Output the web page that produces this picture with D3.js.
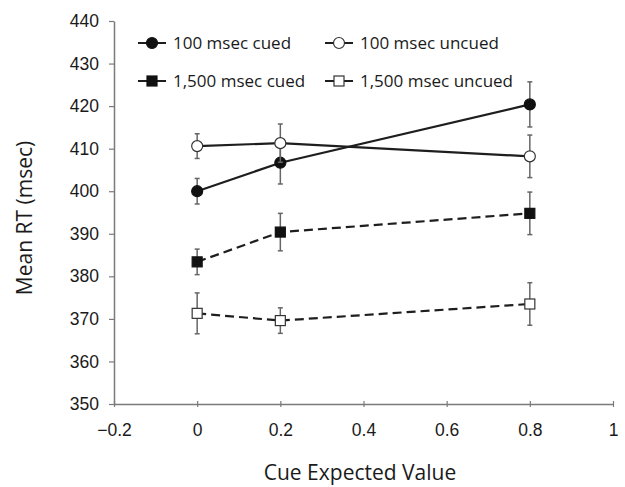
<!DOCTYPE html>
<html>
<head>
<meta charset="utf-8">
<script src="https://cdn.jsdelivr.net/npm/d3@7"></script>
<style>
  body { margin: 0; background: #fff; }
  svg { display: block; font-family: "Open Sans", sans-serif; }
</style>
</head>
<body>
<svg id="drawing_region"></svg>
<script>
// cue expected value (x positions)
const cueValues = [0, 0.2, 0.8];

// series names
const seriesNames = ["100 msec cued", "100 msec uncued", "1,500 msec cued", "1,500 msec uncued"];

// mean RT per series
const cued100 = [400.0, 406.7, 420.4];
const uncued100 = [410.6, 411.3, 408.2];
const cued1500 = [383.4, 390.4, 394.8];
const uncued1500 = [371.3, 369.6, 373.5];

// error bar half widths
const cued100Err = [3.0, 5.0, 5.3];
const uncued100Err = [2.9, 4.5, 5.0];
const cued1500Err = [3.0, 4.4, 5.0];
const uncued1500Err = [4.8, 3.0, 5.0];

// axis ticks
const xTicks = [-0.2, 0, 0.2, 0.4, 0.6, 0.8, 1];
const yTicks = [350, 360, 370, 380, 390, 400, 410, 420, 430, 440];

const series = [
    { name: seriesNames[0], values: cued100, err: cued100Err, shape: "circle", filled: true, dashed: false },
    { name: seriesNames[1], values: uncued100, err: uncued100Err, shape: "circle", filled: false, dashed: false },
    { name: seriesNames[2], values: cued1500, err: cued1500Err, shape: "square", filled: true, dashed: true },
    { name: seriesNames[3], values: uncued1500, err: uncued1500Err, shape: "square", filled: false, dashed: true }
];

const config = {
    width: 625,
    height: 487,
    margin: { top: 21, right: 12, bottom: 83, left: 114 }
};

const svg = d3.select("#drawing_region")
    .attr("width", config.width)
    .attr("height", config.height);

const inner_width = config.width - config.margin.left - config.margin.right;
const inner_height = config.height - config.margin.top - config.margin.bottom;

const chart = svg.append("g")
    .attr("transform", `translate(${config.margin.left}, ${config.margin.top})`);

const xscale = d3.scaleLinear().domain([-0.2, 1]).range([0, inner_width]);
const yscale = d3.scaleLinear().domain([350, 440]).range([inner_height, 0]);

const fmtX = d => d === 0 || d === 1 ? String(d) : d3.format(".1f")(d).replace("-", "\u2013");

const axisColor = "#7a7a7a";
const lineColor = "#1e1e1e";

// x axis: ticks cross the line
const xaxis_group = chart.append("g")
    .attr("transform", `translate(0, ${inner_height})`)
    .call(d3.axisBottom(xscale).tickValues(xTicks).tickFormat(fmtX).tickSizeInner(3).tickSizeOuter(0).tickPadding(17));
xaxis_group.selectAll(".tick line").attr("y1", -3);

const yaxis_group = chart.append("g")
    .call(d3.axisLeft(yscale).tickValues(yTicks).tickSizeInner(5).tickSizeOuter(0).tickPadding(10));

[xaxis_group, yaxis_group].forEach(g => {
    g.select(".domain").attr("stroke", axisColor).attr("stroke-width", 1.5);
    g.selectAll(".tick line").attr("stroke", axisColor).attr("stroke-width", 1.2);
    g.selectAll(".tick text").attr("fill", "#1a1a1a").attr("font-size", "17.5px");
});

// axis titles
svg.append("text")
    .attr("x", 360)
    .attr("y", 480)
    .attr("text-anchor", "middle")
    .attr("font-size", "21px")
    .attr("fill", "#1a1a1a")
    .text("Cue Expected Value");

svg.append("text")
    .attr("transform", "translate(32, 218) rotate(-90)")
    .attr("text-anchor", "middle")
    .attr("font-size", "21px")
    .attr("fill", "#1a1a1a")
    .text("Mean RT (msec)");

function drawMarker(g, s, cx, cy) {
    if (s.shape === "circle") {
        g.append("circle")
            .attr("cx", cx).attr("cy", cy).attr("r", 5.5)
            .attr("fill", s.filled ? "#111" : "#fff")
            .attr("stroke", s.filled ? "#111" : "#333")
            .attr("stroke-width", 1.2);
    } else {
        g.append("rect")
            .attr("x", cx - 5).attr("y", cy - 5)
            .attr("width", 10).attr("height", 10)
            .attr("fill", s.filled ? "#111" : "#fff")
            .attr("stroke", s.filled ? "#111" : "#333")
            .attr("stroke-width", 1.2);
    }
}

const line = d3.line()
    .x(d => xscale(d.x))
    .y(d => yscale(d.y));

series.forEach(s => {
    const pts = cueValues.map((x, i) => ({ x: x, y: s.values[i], e: s.err[i] }));
    const g = chart.append("g");

    // error bars
    pts.forEach(p => {
        const cx = xscale(p.x);
        const y0 = yscale(p.y - p.e), y1 = yscale(p.y + p.e);
        g.append("line").attr("x1", cx).attr("x2", cx).attr("y1", y0).attr("y2", y1)
            .attr("stroke", "#666").attr("stroke-width", 1.5);
        [y0, y1].forEach(yy => {
            g.append("line").attr("x1", cx - 2.5).attr("x2", cx + 2.5).attr("y1", yy).attr("y2", yy)
                .attr("stroke", "#666").attr("stroke-width", 1.5);
        });
    });

    g.append("path")
        .attr("d", line(pts))
        .attr("fill", "none")
        .attr("stroke", lineColor)
        .attr("stroke-width", 2.2)
        .attr("stroke-dasharray", s.dashed ? "9,5" : null);

    pts.forEach(p => drawMarker(g, s, xscale(p.x), yscale(p.y)));
});

// legend
const legendPos = [
    { x: 138, y: 43 }, { x: 325, y: 43 },
    { x: 138, y: 81 }, { x: 325, y: 81 }
];
series.forEach((s, i) => {
    const lg = svg.append("g").attr("transform", `translate(${legendPos[i].x}, ${legendPos[i].y})`);
    lg.append("line").attr("x1", 0).attr("x2", 28).attr("y1", 0).attr("y2", 0)
        .attr("stroke", lineColor).attr("stroke-width", 2);
    drawMarker(lg, s, 14, 0);
    lg.append("text")
        .attr("x", 35)
        .attr("y", 0)
        .attr("dy", "0.35em")
        .attr("font-size", "17px")
        .attr("fill", "#1a1a1a")
        .text(s.name);
});
</script>
</body>
</html>
